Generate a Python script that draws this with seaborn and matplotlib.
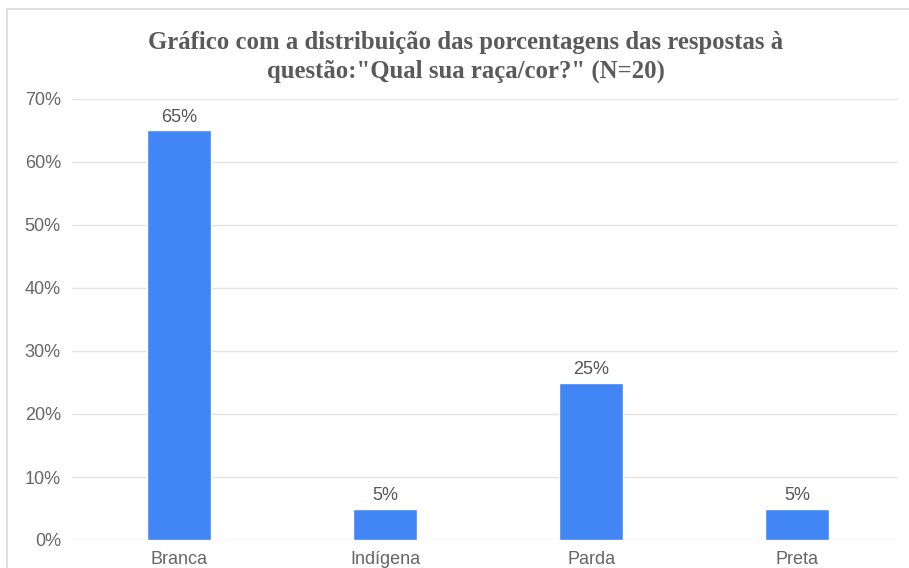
import matplotlib
matplotlib.use("Agg")
import matplotlib.pyplot as plt
import seaborn as sns
import pandas as pd
from matplotlib.lines import Line2D

categories = ["Branca", "Indígena", "Parda", "Preta"]
values = [65, 5, 25, 5]
yticks = [0, 10, 20, 30, 40, 50, 60, 70]
title = 'Gráfico com a distribuição das porcentagens das respostas à\nquestão:"Qual sua raça/cor?" (N=20)'

sns.set_theme(style="white")
plt.rcParams['font.family'] = ['Liberation Sans', 'DejaVu Sans']

W, H = 909, 568
fig = plt.figure(figsize=(W / 100, H / 100), dpi=100)
fig.patch.set_facecolor("white")
# outer frame: top and left edges only
fig.add_artist(Line2D([7 / W, 1.0], [1 - 9 / H, 1 - 9 / H], transform=fig.transFigure,
                      color="#dadada", linewidth=1.2))
fig.add_artist(Line2D([7 / W, 7 / W], [0.0, 1 - 9 / H], transform=fig.transFigure,
                      color="#dadada", linewidth=1.2))

ax = fig.add_axes([72 / W, 1 - 540 / H, (898 - 72) / W, (540 - 99) / H])
df = pd.DataFrame({"cat": categories, "val": values})
sns.barplot(data=df, x="cat", y="val", color="#4285F4", saturation=1,
            width=0.307, ax=ax, zorder=3)

ax.set_xlim(-0.52, 3.49)
ax.set_ylim(0, 70)
ax.set_yticks(yticks)
ax.set_yticklabels([f"{t}%" for t in yticks])
ax.set_xlabel("")
ax.set_ylabel("")
ax.grid(axis="y", color="#e3e3e3", linewidth=1.0, zorder=0)
ax.grid(axis="x", visible=False)
for s in ax.spines.values():
    s.set_visible(False)
ax.tick_params(axis="y", length=0, pad=8, labelsize=13, labelcolor="#666666")
ax.tick_params(axis="x", length=0, pad=8, labelsize=13, labelcolor="#666666")

for cont in ax.containers:
    ax.bar_label(cont, labels=[f"{v}%" for v in values], padding=3,
                 fontsize=13, color="#555555")

fig.text(466 / W, 1 - 57 / H, title, ha="center", va="center",
         fontsize=17.8, fontweight="bold", color="#5a5a5a",
         family=["Liberation Serif", "DejaVu Serif"], linespacing=1.3)

fig.savefig("out.png", dpi=100, facecolor="white")
